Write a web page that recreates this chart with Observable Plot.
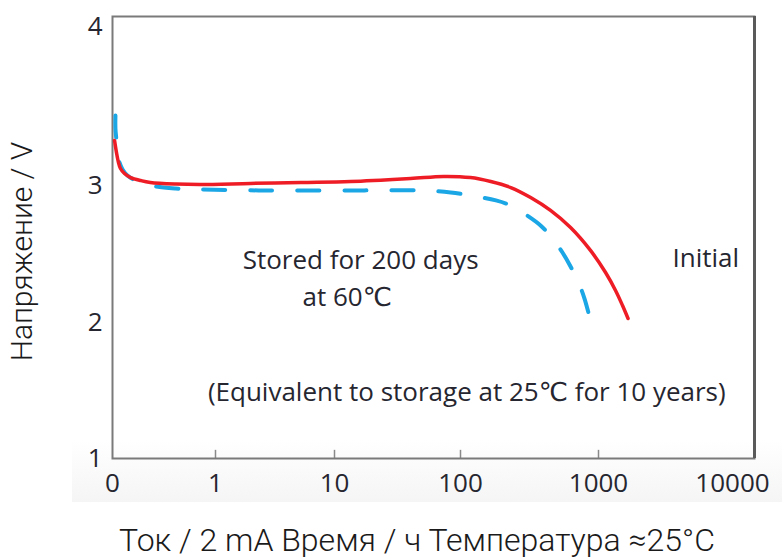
<!DOCTYPE html>
<html>
<head>
<meta charset="utf-8">
<script src="https://cdn.jsdelivr.net/npm/d3@7"></script>
<script src="https://cdn.jsdelivr.net/npm/@observablehq/plot@0.6"></script>
<style>
  html, body { margin: 0; padding: 0; background: #fff; width: 782px; height: 560px; overflow: hidden; }
  #wrap { position: relative; width: 782px; height: 560px; }
  #band { position: absolute; left: 72px; top: 440px; width: 710px; height: 62px;
          background: linear-gradient(#ffffff, #f5f5f5); }
  #chart { position: absolute; left: 0; top: 0; }
  #caption { position: absolute; left: 417px; top: 523px; transform: translateX(-50%);
             white-space: nowrap; font-family: Roboto, "Liberation Sans", sans-serif; font-weight: 300;
             font-size: 32px; line-height: 34px; color: #1a1a1a; }
</style>
</head>
<body>
<div id="wrap">
  <div id="band"></div>
  <div id="chart"></div>
  <div id="caption">Ток / 2 mA Время / ч Температура ≈25°C</div>
</div>
<script>
// Axis ticks
const xTickValues = [0, 1, 10, 100, 1000, 10000];
const xTickLabels = ["0", "1", "10", "100", "1000", "10000"];
const yTickValues = [1, 2, 3, 4];
const yLabel = "Напряжение / V";

// "Initial" series (hours, volts)
const initialHours = [0.014, 0.027, 0.041, 0.055, 0.084, 0.13, 0.21, 0.29, 0.53, 0.81, 2.3, 5.8, 13.6, 41, 74, 118, 166, 232, 323, 450, 628, 875, 1110, 1286, 1426, 1547];
const initialVolts = [3.283, 3.208, 3.145, 3.107, 3.075, 3.05, 3.031, 3.019, 3.009, 3.006, 3.013, 3.019, 3.025, 3.044, 3.057, 3.05, 3.025, 2.985, 2.912, 2.818, 2.693, 2.526, 2.365, 2.234, 2.124, 2.029];

// "Stored for 200 days at 60℃" series (hours, volts)
const storedHours = [0.02, 0.02, 0.027, 0.034, 0.048, 0.07, 0.106, 0.168, 0.29, 0.53, 0.81, 2.8, 13.6, 49, 84, 129, 181, 232, 297, 381, 465, 549, 628, 717, 792, 875];
const storedVolts = [3.44, 3.358, 3.283, 3.208, 3.145, 3.101, 3.063, 3.031, 3.0, 2.978, 2.971, 2.964, 2.964, 2.964, 2.949, 2.92, 2.891, 2.854, 2.788, 2.708, 2.613, 2.511, 2.409, 2.292, 2.175, 2.015];

// Annotations
const noteTexts = ["Stored for 200 days", "at 60℃", "Initial", "(Equivalent to storage at 25℃ for 10 years)"];
const noteHours = [1.95, 5.95, 2980, 0.9];
const noteVolts = [2.453, 2.182, 2.467, 1.482];

const initial = initialHours.map((t, i) => ({t, v: initialVolts[i]}));
const stored = storedHours.map((t, i) => ({t, v: storedVolts[i]}));
const notes = noteTexts.map((text, i) => ({text, t: noteHours[i], v: noteVolts[i]}));
const labelOf = new Map(xTickValues.map((v, i) => [v, xTickLabels[i]]));

const W = 782, H = 510;
const fontTicks = "'Open Sans', 'DejaVu Sans', sans-serif";

const chart = Plot.plot({
  width: W,
  height: H,
  marginLeft: 112,
  marginTop: 16,
  marginRight: 28,
  marginBottom: 52,
  style: {background: "transparent", color: "#262630", fontFamily: fontTicks},
  x: {type: "symlog", constant: 1, domain: xTickValues, range: [112, 215, 334, 460, 598, 754]},
  y: {type: "linear", domain: yTickValues, range: [458, 322, 185, 26]},
  marks: [
    Plot.gridX([1, 10, 100, 1000], {y1: 1, y2: 1.06, stroke: "#8a8a8a", strokeOpacity: 1, strokeWidth: 1.5}),
    Plot.frame({stroke: "#7a7a7a", strokeWidth: 2}),
    Plot.ruleX([10000], {stroke: "#5a5a5a", strokeWidth: 3}),
    Plot.axisX(xTickValues.slice(0, 5), {tickSize: 0, tickPadding: 15, fontSize: 26, tickFormat: d => labelOf.get(d), label: null, fill: "#262630"}),
    Plot.axisX([10000], {tickSize: 0, tickPadding: 15, fontSize: 26, dx: -22, tickFormat: d => labelOf.get(d), label: null, fill: "#262630"}),
    Plot.axisY(yTickValues, {tickSize: 0, tickPadding: 10, fontSize: 26, tickFormat: d => String(d), label: null, fill: "#262630"}),
    Plot.text([yLabel], {frameAnchor: "left", textAnchor: "middle", rotate: -90, dx: -90, dy: 14, fontSize: 30, fontWeight: 300,
      fontFamily: "Roboto, 'Liberation Sans', sans-serif", fill: "#1a1a1a"}),
    Plot.line(stored, {x: "t", y: "v", stroke: "#1ba6e6", strokeWidth: 4, strokeDasharray: "22,25", curve: "catmull-rom"}),
    Plot.line(initial, {x: "t", y: "v", stroke: "#ee1c25", strokeWidth: 3.5, curve: "catmull-rom"}),
    Plot.text(notes, {x: "t", y: "v", text: "text", textAnchor: "start", lineAnchor: "middle", fontSize: 26, fill: "#262630"})
  ]
});
document.getElementById("chart").appendChild(chart);
</script>
</body>
</html>
